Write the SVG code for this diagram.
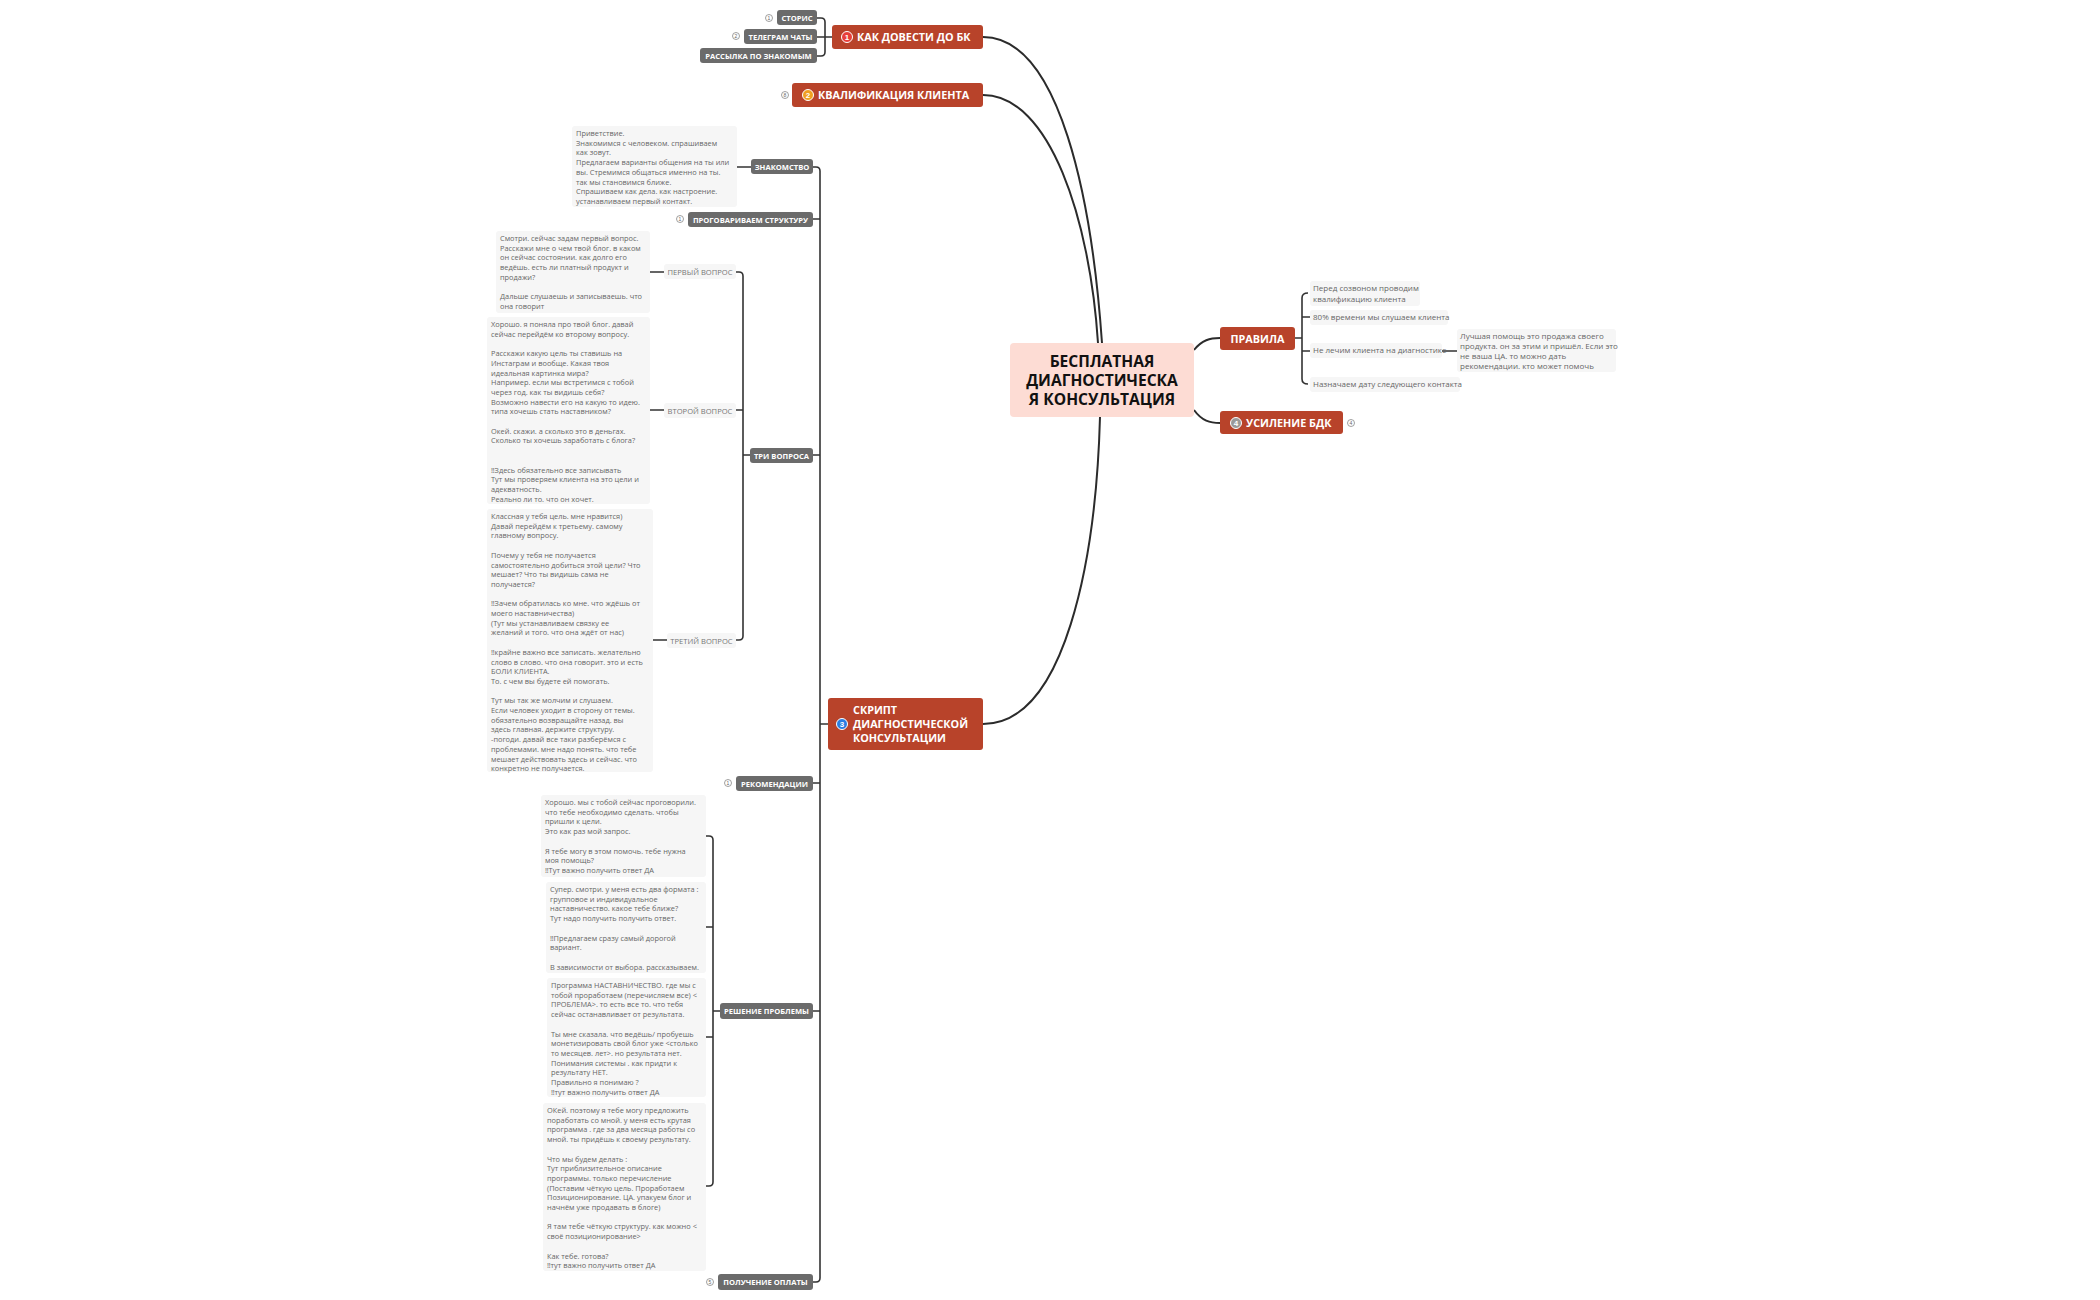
<svg xmlns="http://www.w3.org/2000/svg" width="2100" height="1300" viewBox="0 0 2100 1300">
<style>
.lbl{fill:#6b6b6b}
.lt{font-family:"Open Sans","Liberation Sans",sans-serif;font-size:7.6px;font-weight:bold;fill:#fff;text-anchor:middle}
.main{fill:#b8432a}
.mt{font-family:"Open Sans","Liberation Sans",sans-serif;font-size:10.8px;font-weight:bold;fill:#fff}
.note{fill:#f6f6f6}
.nt{font-family:"Open Sans","Liberation Sans",sans-serif;font-size:7.4px;fill:#666}
.nr{font-family:"Open Sans","Liberation Sans",sans-serif;font-size:8px;fill:#666}
.q{fill:#f6f6f6}
.qt{font-family:"Open Sans","Liberation Sans",sans-serif;font-size:7.6px;fill:#777;text-anchor:middle}
.c{fill:none;stroke:#333;stroke-width:1.6}
.m{fill:none;stroke:#2b2b2b;stroke-width:2}
.ci{fill:#fff;stroke:#888;stroke-width:0.8}
.cn{font-family:"Liberation Sans",sans-serif;font-size:5px;fill:#666;text-anchor:middle}
</style>
<rect width="2100" height="1300" fill="#fff"/>
<g id="connectors">
<path class="m" d="M983,37 C1060,37 1092,200 1102,343"/>
<path class="m" d="M983,95 C1050,95 1090,220 1098,343"/>
<path class="m" d="M983,724 C1065,724 1096,560 1100,417"/>
<path class="m" d="M1194,350 C1202,340 1210,338 1220,338"/>
<path class="m" d="M1194,410 C1202,421 1210,423 1220,423"/>
<path class="c" d="M817,18 H821 Q825,18 825,22 V52 Q825,56 821,56 H817 M817,37 H832"/>
<path class="c" d="M813,167 H816 Q820,167 820,171 V1278 Q820,1282 816,1282 H813 M813,219 H820 M813,455 H820 M820,724 H828 M813,783 H820 M813,1011 H820"/>
<path class="c" d="M736,272 H739 Q743,272 743,276 V636 Q743,640 739,640 H736 M743,455 H750 M736,410 H743"/>
<path class="c" d="M650,272 H664 M650,410 H664 M653,640 H667 M737,167 H751"/>
<path class="c" d="M706,836 H709 Q713,836 713,840 V1182 Q713,1186 709,1186 H706 M706,927 H713 M706,1037 H713 M713,1011 H720"/>
<path class="c" d="M1295,338 H1302 M1308,293 Q1302,293 1302,298 V379 Q1302,384 1308,384 M1302,317 H1310 M1302,351 H1310 M1442,351 H1457"/>
</g>
<g id="center"><rect x="1010" y="343" width="184" height="74" rx="4" fill="#fddcd4"/>
<text font-family="Open Sans,Liberation Sans,sans-serif" font-size="15.6" font-weight="bold" fill="#111" text-anchor="middle"><tspan x="1102" y="367">БЕСПЛАТНАЯ</tspan><tspan x="1102" y="386">ДИАГНОСТИЧЕСКА</tspan><tspan x="1102" y="405">Я КОНСУЛЬТАЦИЯ</tspan></text></g>
<g id="n1"><rect class="main" x="832" y="25" width="151" height="24" rx="3"/><circle cx="847" cy="37" r="5.5" fill="#e8403a" stroke="#fff" stroke-width="1"/><text x="847" y="40" font-family="Liberation Sans,sans-serif" font-size="8" fill="#fff" text-anchor="middle" font-weight="bold">1</text><text class="mt" x="857" y="41">КАК ДОВЕСТИ ДО БК</text></g>
<g id="n1a"><circle class="ci" cx="769" cy="18" r="3.5"/><text class="cn" x="769" y="20">1</text><rect class="lbl" x="777" y="10" width="40" height="15" rx="3"/><text class="lt" x="797" y="20.5">СТОРИС</text></g>
<g id="n1b"><circle class="ci" cx="736" cy="36" r="3.5"/><text class="cn" x="736" y="38">2</text><rect class="lbl" x="744" y="29" width="73" height="15" rx="3"/><text class="lt" x="780.5" y="39.5">ТЕЛЕГРАМ ЧАТЫ</text></g>
<g id="n1c"><rect class="lbl" x="700" y="48" width="117" height="15" rx="3"/><text class="lt" x="758.5" y="58.5">РАССЫЛКА ПО ЗНАКОМЫМ</text></g>
<g id="n2"><circle class="ci" cx="785" cy="95" r="3.5"/><text class="cn" x="785" y="97">8</text><rect class="main" x="792" y="83" width="191" height="24" rx="3"/><circle cx="808" cy="95" r="5.5" fill="#f0a020" stroke="#fff" stroke-width="1"/><text x="808" y="98" font-family="Liberation Sans,sans-serif" font-size="8" fill="#fff" text-anchor="middle" font-weight="bold">2</text><text class="mt" x="818" y="99">КВАЛИФИКАЦИЯ КЛИЕНТА</text></g>
<g id="n3"><rect class="main" x="828" y="698" width="155" height="52" rx="3"/><circle cx="842" cy="724" r="5.5" fill="#2a7de1" stroke="#fff" stroke-width="1"/><text x="842" y="727" font-family="Liberation Sans,sans-serif" font-size="8" fill="#fff" text-anchor="middle" font-weight="bold">3</text><text class="mt"><tspan x="853" y="714">СКРИПТ</tspan><tspan x="853" y="728">ДИАГНОСТИЧЕСКОЙ</tspan><tspan x="853" y="742">КОНСУЛЬТАЦИИ</tspan></text></g>
<g id="pravila"><rect class="main" x="1220" y="327" width="75" height="23" rx="3"/><text class="mt" x="1257.5" y="342.5" text-anchor="middle">ПРАВИЛА</text></g>
<g id="n4"><rect class="main" x="1220" y="411" width="123" height="23" rx="3"/><circle cx="1236" cy="423" r="5.5" fill="#999" stroke="#fff" stroke-width="1"/><text x="1236" y="426" font-family="Liberation Sans,sans-serif" font-size="8" fill="#fff" text-anchor="middle" font-weight="bold">4</text><text class="mt" x="1246" y="427">УСИЛЕНИЕ БДК</text><circle class="ci" cx="1351" cy="423" r="3.5"/><text class="cn" x="1351" y="425">4</text></g>
<g id="r1"><rect class="note" x="1310" y="281" width="110" height="25" rx="3"/><text class="nr"><tspan x="1313" y="291">Перед созвоном проводим</tspan><tspan x="1313" y="301.5">квалификацию клиента</tspan></text></g>
<g id="r2"><rect class="note" x="1310" y="310" width="138" height="15" rx="3"/><text class="nr" x="1313" y="320">80% времени мы слушаем клиента</text></g>
<g id="r3"><rect class="note" x="1310" y="343" width="132" height="15" rx="3"/><text class="nr" x="1313" y="353">Не лечим клиента на диагностике</text></g>
<g id="r4"><rect class="note" x="1310" y="377" width="150" height="15" rx="3"/><text class="nr" x="1313" y="387">Назначаем дату следующего контакта</text></g>
<g id="r3a"><rect class="note" x="1457" y="329" width="159" height="43" rx="3"/><text class="nr"><tspan x="1460" y="339">Лучшая помощь это продажа своего</tspan><tspan x="1460" y="349">продукта. он за этим и пришёл. Если это</tspan><tspan x="1460" y="359">не ваша ЦА. то можно дать</tspan><tspan x="1460" y="369">рекомендации. кто может помочь</tspan></text></g>
<g id="znak"><rect class="lbl" x="751" y="159" width="62" height="15" rx="3"/><text class="lt" x="782" y="169.5">ЗНАКОМСТВО</text></g>
<g id="znak-note"><rect class="note" x="572" y="126" width="165" height="81" rx="3"/><text class="nt"><tspan x="576" y="136">Приветствие.</tspan><tspan x="576" y="145.7">Знакомимся с человеком. спрашиваем</tspan><tspan x="576" y="155.4">как зовут.</tspan><tspan x="576" y="165.1">Предлагаем варианты общения на ты или</tspan><tspan x="576" y="174.8">вы. Стремимся общаться именно на ты.</tspan><tspan x="576" y="184.5">так мы становимся ближе.</tspan><tspan x="576" y="194.2">Спрашиваем как дела. как настроение.</tspan><tspan x="576" y="203.9">устанавливаем первый контакт.</tspan></text></g>
<g id="struct"><circle class="ci" cx="680" cy="219" r="3.5"/><text class="cn" x="680" y="221">1</text><rect class="lbl" x="688" y="212" width="125" height="15" rx="3"/><text class="lt" x="750.5" y="222.5">ПРОГОВАРИВАЕМ СТРУКТУРУ</text></g>
<g id="tri"><rect class="lbl" x="750" y="448" width="63" height="15" rx="3"/><text class="lt" x="781.5" y="458.5">ТРИ ВОПРОСА</text></g>
<g id="q1"><rect class="q" x="664" y="264" width="72" height="15" rx="3"/><text class="qt" x="700" y="274.5">ПЕРВЫЙ ВОПРОС</text></g>
<g id="q2"><rect class="q" x="664" y="403" width="72" height="15" rx="3"/><text class="qt" x="700" y="413.5">ВТОРОЙ ВОПРОС</text></g>
<g id="q3"><rect class="q" x="667" y="633" width="69" height="15" rx="3"/><text class="qt" x="701.5" y="643.5">ТРЕТИЙ ВОПРОС</text></g>
<g id="q1-note"><rect class="note" x="496" y="231" width="154" height="82" rx="3"/><text class="nt"><tspan x="500" y="241">Смотри. сейчас задам первый вопрос.</tspan><tspan x="500" y="250.7">Расскажи мне о чем твой блог. в каком</tspan><tspan x="500" y="260.4">он сейчас состоянии. как долго его</tspan><tspan x="500" y="270.1">ведёшь. есть ли платный продукт и</tspan><tspan x="500" y="279.8">продажи?</tspan><tspan x="500" y="299.2">Дальше слушаешь и записываешь. что</tspan><tspan x="500" y="308.9">она говорит</tspan></text></g>
<g id="q2-note"><rect class="note" x="487" y="317" width="163" height="187" rx="3"/><text class="nt"><tspan x="491" y="327">Хорошо. я поняла про твой блог. давай</tspan><tspan x="491" y="336.7">сейчас перейдём ко второму вопросу.</tspan><tspan x="491" y="356.1">Расскажи какую цель ты ставишь на</tspan><tspan x="491" y="365.8">Инстаграм и вообще. Какая твоя</tspan><tspan x="491" y="375.5">идеальная картинка мира?</tspan><tspan x="491" y="385.2">Например. если мы встретимся с тобой</tspan><tspan x="491" y="394.9">через год. как ты видишь себя?</tspan><tspan x="491" y="404.6">Возможно навести его на какую то идею.</tspan><tspan x="491" y="414.3">типа хочешь стать наставником?</tspan><tspan x="491" y="433.7">Окей. скажи. а сколько это в деньгах.</tspan><tspan x="491" y="443.4">Сколько ты хочешь заработать с блога?</tspan><tspan x="491" y="472.5">‼Здесь обязательно все записывать</tspan><tspan x="491" y="482.2">Тут мы проверяем клиента на это цели и</tspan><tspan x="491" y="491.9">адекватность.</tspan><tspan x="491" y="501.6">Реально ли то. что он хочет.</tspan></text></g>
<g id="q3-note"><rect class="note" x="487" y="509" width="166" height="263" rx="3"/><text class="nt"><tspan x="491" y="519">Классная у тебя цель. мне нравится)</tspan><tspan x="491" y="528.7">Давай перейдём к третьему. самому</tspan><tspan x="491" y="538.4">главному вопросу.</tspan><tspan x="491" y="557.8">Почему у тебя не получается</tspan><tspan x="491" y="567.5">самостоятельно добиться этой цели? Что</tspan><tspan x="491" y="577.2">мешает? Что ты видишь сама не</tspan><tspan x="491" y="586.9">получается?</tspan><tspan x="491" y="606.3">‼Зачем обратилась ко мне. что ждёшь от</tspan><tspan x="491" y="616">моего наставничества)</tspan><tspan x="491" y="625.7">(Тут мы устанавливаем связку ее</tspan><tspan x="491" y="635.4">желаний и того. что она ждёт от нас)</tspan><tspan x="491" y="654.8">‼крайне важно все записать. желательно</tspan><tspan x="491" y="664.5">слово в слово. что она говорит. это и есть</tspan><tspan x="491" y="674.2">БОЛИ КЛИЕНТА.</tspan><tspan x="491" y="683.9">То. с чем вы будете ей помогать.</tspan><tspan x="491" y="703.3">Тут мы так же молчим и слушаем.</tspan><tspan x="491" y="713">Если человек уходит в сторону от темы.</tspan><tspan x="491" y="722.7">обязательно возвращайте назад. вы</tspan><tspan x="491" y="732.4">здесь главная. держите структуру.</tspan><tspan x="491" y="742.1">-погоди. давай все таки разберёмся с</tspan><tspan x="491" y="751.8">проблемами. мне надо понять. что тебе</tspan><tspan x="491" y="761.5">мешает действовать здесь и сейчас. что</tspan><tspan x="491" y="771.2">конкретно не получается.</tspan></text></g>
<g id="rek"><circle class="ci" cx="728" cy="783" r="3.5"/><text class="cn" x="728" y="785">1</text><rect class="lbl" x="736" y="776" width="77" height="15" rx="3"/><text class="lt" x="774.5" y="786.5">РЕКОМЕНДАЦИИ</text></g>
<g id="resh"><rect class="lbl" x="720" y="1003" width="93" height="16" rx="3"/><text class="lt" x="766.5" y="1013.5">РЕШЕНИЕ ПРОБЛЕМЫ</text></g>
<g id="nA"><rect class="note" x="541" y="795" width="165" height="82" rx="3"/><text class="nt"><tspan x="545" y="805">Хорошо. мы с тобой сейчас проговорили.</tspan><tspan x="545" y="814.7">что тебе необходимо сделать. чтобы</tspan><tspan x="545" y="824.4">пришли к цели.</tspan><tspan x="545" y="834.1">Это как раз мой запрос.</tspan><tspan x="545" y="853.5">Я тебе могу в этом помочь. тебе нужна</tspan><tspan x="545" y="863.2">моя помощь?</tspan><tspan x="545" y="872.9">‼Тут важно получить ответ ДА</tspan></text></g>
<g id="nB"><rect class="note" x="546" y="882" width="160" height="91" rx="3"/><text class="nt"><tspan x="550" y="892">Супер. смотри. у меня есть два формата :</tspan><tspan x="550" y="901.7">групповое и индивидуальное</tspan><tspan x="550" y="911.4">наставничество. какое тебе ближе?</tspan><tspan x="550" y="921.1">Тут надо получить получить ответ.</tspan><tspan x="550" y="940.5">‼Предлагаем сразу самый дорогой</tspan><tspan x="550" y="950.2">вариант.</tspan><tspan x="550" y="969.6">В зависимости от выбора. рассказываем.</tspan></text></g>
<g id="nC"><rect class="note" x="547" y="978" width="159" height="119" rx="3"/><text class="nt"><tspan x="551" y="988">Программа НАСТАВНИЧЕСТВО. где мы с</tspan><tspan x="551" y="997.7">тобой проработаем (перечисляем все) &lt;</tspan><tspan x="551" y="1007.4">ПРОБЛЕМА&gt;. то есть все то. что тебя</tspan><tspan x="551" y="1017.1">сейчас останавливает от результата.</tspan><tspan x="551" y="1036.5">Ты мне сказала. что ведёшь/ пробуешь</tspan><tspan x="551" y="1046.2">монетизировать свой блог уже &lt;столько</tspan><tspan x="551" y="1055.9">то месяцев. лет&gt;. но результата нет.</tspan><tspan x="551" y="1065.6">Понимания системы . как придти к</tspan><tspan x="551" y="1075.3">результату НЕТ.</tspan><tspan x="551" y="1085">Правильно я понимаю ?</tspan><tspan x="551" y="1094.7">‼тут важно получить ответ ДА</tspan></text></g>
<g id="nD"><rect class="note" x="543" y="1103" width="163" height="168" rx="3"/><text class="nt"><tspan x="547" y="1113">ОКей. поэтому я тебе могу предложить</tspan><tspan x="547" y="1122.7">поработать со мной. у меня есть крутая</tspan><tspan x="547" y="1132.4">программа . где за два месяца работы со</tspan><tspan x="547" y="1142.1">мной. ты придёшь к своему результату.</tspan><tspan x="547" y="1161.5">Что мы будем делать :</tspan><tspan x="547" y="1171.2">Тут приблизительное описание</tspan><tspan x="547" y="1180.9">программы. только перечисление</tspan><tspan x="547" y="1190.6">(Поставим чёткую цель. Проработаем</tspan><tspan x="547" y="1200.3">Позиционирование. ЦА. упакуем блог и</tspan><tspan x="547" y="1210">начнём уже продавать в блоге)</tspan><tspan x="547" y="1229.4">Я там тебе чёткую структуру. как можно &lt;</tspan><tspan x="547" y="1239.1">своё позиционирование&gt;</tspan><tspan x="547" y="1258.5">Как тебе. готова?</tspan><tspan x="547" y="1268.2">‼тут важно получить ответ ДА</tspan></text></g>
<g id="opl"><circle class="ci" cx="710" cy="1282" r="3.5"/><text class="cn" x="710" y="1284">5</text><rect class="lbl" x="718" y="1274" width="95" height="16" rx="3"/><text class="lt" x="765.5" y="1284.5">ПОЛУЧЕНИЕ ОПЛАТЫ</text></g>
</svg>
